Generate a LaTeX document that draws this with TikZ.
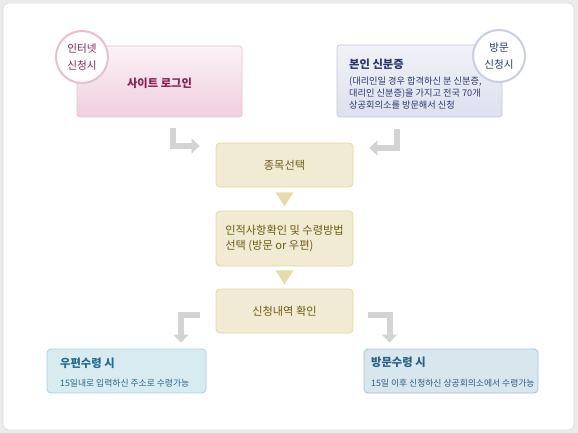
\documentclass[tikz,border=0pt]{standalone}
\usepackage{fontspec}
\setmainfont{Noto Sans CJK KR}
\usetikzlibrary{arrows.meta,calc}
\definecolor{bggray}{HTML}{EBEBEB}
\definecolor{frameline}{HTML}{DADADA}
\definecolor{pinktop}{HTML}{FBF2F6}
\definecolor{pinkbot}{HTML}{EFCFDE}
\definecolor{pinkline}{HTML}{E6C3D3}
\definecolor{pinktext}{HTML}{8A1F55}
\definecolor{pinkring}{HTML}{E8BFD1}
\definecolor{bluetop}{HTML}{F1F2F8}
\definecolor{bluebot}{HTML}{DDE0EE}
\definecolor{blueline}{HTML}{C4C8DC}
\definecolor{bluetext}{HTML}{283A6B}
\definecolor{bluering}{HTML}{C9CEE0}
\definecolor{tanfill}{HTML}{F1EBD3}
\definecolor{tanline}{HTML}{E3D7A2}
\definecolor{tantext}{HTML}{6E5B10}
\definecolor{tantri}{HTML}{E6DCAB}
\definecolor{arrowgray}{HTML}{D3D3D3}
\definecolor{cyanfill}{HTML}{D7EBF1}
\definecolor{cyanline}{HTML}{A8CFDC}
\definecolor{cyantext}{HTML}{236A8C}
\definecolor{skyfill}{HTML}{D8E6EE}
\definecolor{skyline}{HTML}{A7C2D3}
\definecolor{skytext}{HTML}{2A5F86}
\begin{document}
\begin{tikzpicture}[x=1pt,y=-1pt,
  pinkbox/.style={draw=pinkline,line width=0.8pt,rounded corners=3pt,top color=pinktop,bottom color=pinkbot,minimum width=165pt,minimum height=71pt,inner sep=0pt},
  bluebox/.style={draw=blueline,line width=0.8pt,rounded corners=3pt,top color=bluetop,bottom color=bluebot,minimum width=165pt,minimum height=72pt,inner sep=0pt},
  tanbox/.style={draw=tanline,line width=0.8pt,rounded corners=4pt,fill=tanfill,minimum width=137pt,minimum height=44pt,inner sep=0pt,text=tantext,font=\fontsize{11.2}{15}\selectfont},
  ring/.style={circle,fill=white,line width=2pt,minimum size=52pt,inner sep=0pt,align=center,font=\fontsize{10.6}{16.5}\selectfont},
  resultbox/.style={line width=0.8pt,rounded corners=4pt,minimum height=44pt,inner sep=0pt},
  grayarrow/.style={draw=arrowgray,line width=6pt,-{Triangle[width=15pt,length=8pt]}},
  tri/.style={fill=tantri},
  titletext/.style={inner sep=0pt,font=\bfseries\fontsize{11.3}{12}\selectfont}]
\useasboundingbox (0,0) rectangle (578,433);
\fill[bggray] (0,0) rectangle (578,433);
\draw[frameline,fill=white,rounded corners=6pt,line width=0.6pt] (3,3) rectangle (574,430);
% top boxes
\node[pinkbox] (login) at (159.5,81.5) {};
\node[titletext,text=pinktext] (logintxt) at (159.5,83) {사이트 로그인};
\node[bluebox] (idcard) at (419.5,81) {};
\node[titletext,anchor=west,text=bluetext] (idtitle) at (349,64) {본인 신분증};
\node[anchor=west,inner sep=0pt,align=left,text=bluetext,font=\fontsize{9.2}{12}\selectfont] (idbody) at (349,93.5) {(대리인일 경우 합격하신 분 신분증,\\대리인 신분증)을 가지고 전국 70개\\상공회의소를 방문해서 신청};
% circles
\node[ring,draw=pinkring,text=pinktext] (inet) at (82,57) {인터넷\\신청시};
\node[ring,draw=bluering,text=bluetext] (visitc) at (499,56) {방문\\신청시};
% steps
\node[tanbox] (s1) at (284.5,165) {종목선택};
\node[tanbox,minimum height=55pt,align=left] (s2) at (284.5,238.5) {인적사항확인 및 수령방법\\선택 (방문 or 우편)};
\node[tanbox] (s3) at (284.5,311) {신청내역 확인};
% triangles
\fill[tri] ($(s1.south)+(-9,5)$) -- ($(s1.south)+(9,5)$) -- ($(s1.south)+(0,19)$) -- cycle;
\fill[tri] ($(s2.south)+(-9,4)$) -- ($(s2.south)+(9,4)$) -- ($(s2.south)+(0,18)$) -- cycle;
% result boxes
\node[resultbox,draw=cyanline,fill=cyanfill,minimum width=159pt] (post) at (126.5,371) {};
\node[titletext,anchor=west,text=cyantext] (posttitle) at (60,363) {우편수령 시};
\node[anchor=west,inner sep=0pt,text=cyantext,font=\fontsize{8.8}{10}\selectfont] (postbody) at (60,383) {15일내로 입력하신 주소로 수령가능};
\node[resultbox,draw=skyline,fill=skyfill,minimum width=174pt] (visit) at (451,371) {};
\node[titletext,anchor=west,text=skytext] (visittitle) at (371,362) {방문수령 시};
\node[anchor=west,inner sep=0pt,text=skytext,font=\fontsize{8.8}{10}\selectfont] (visitbody) at (371,383) {15일 이후 신청하신 상공회의소에서 수령가능};
% gray arrows
\draw[grayarrow] ($(login.south)+(13.5,11)$) |- ($(s1.west)+(-16,-19)$);
\draw[grayarrow] ($(idcard.south)+(-22.5,12)$) |- ($(s1.east)+(16,-17)$);
\draw[grayarrow] ($(s3.west)+(-16,4)$) -| ($(post.north)+(54.5,-6)$);
\draw[grayarrow] ($(s3.east)+(15,4)$) -| ($(visit.north)+(-61.5,-6)$);
\end{tikzpicture}
\end{document}
